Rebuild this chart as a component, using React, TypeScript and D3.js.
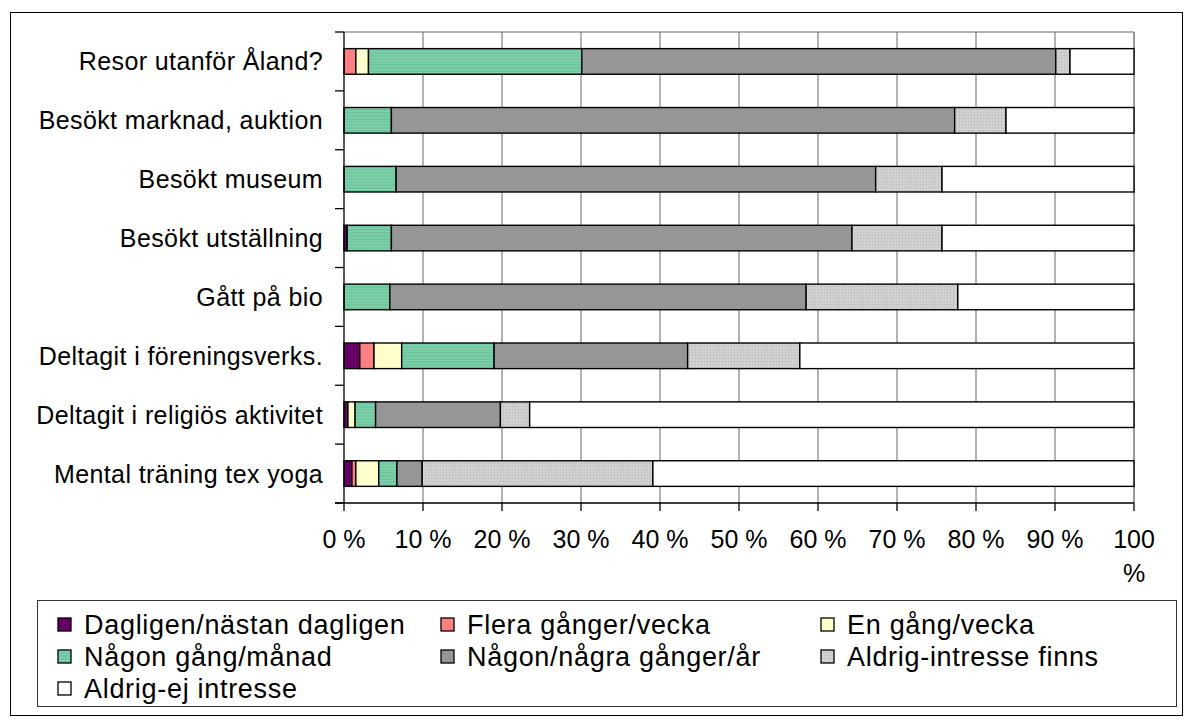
import React from "react";
import * as d3 from "d3";

const categories = [
  "Resor utanför Åland?",
  "Besökt marknad, auktion",
  "Besökt museum",
  "Besökt utställning",
  "Gått på bio",
  "Deltagit i föreningsverks.",
  "Deltagit i religiös aktivitet",
  "Mental träning tex yoga",
];

const seriesNames = [
  "Dagligen/nästan dagligen",
  "Flera gånger/vecka",
  "En gång/vecka",
  "Någon gång/månad",
  "Någon/några gånger/år",
  "Aldrig-intresse finns",
  "Aldrig-ej intresse",
];

const dagligen = [0, 0, 0, 0.4, 0, 2.0, 0.5, 1.0];
const fleraVecka = [1.5, 0, 0, 0, 0, 1.8, 0, 0.5];
const enVecka = [1.6, 0, 0, 0, 0, 3.5, 0.9, 2.9];
const manad = [27.0, 6.0, 6.6, 5.6, 5.8, 11.7, 2.6, 2.3];
const perAr = [60.0, 71.3, 60.7, 58.3, 52.7, 24.5, 15.8, 3.2];
const intresseFinns = [1.8, 6.5, 8.4, 11.4, 19.2, 14.2, 3.7, 29.2];
const ejIntresse = [8.1, 16.2, 24.3, 24.3, 22.3, 42.3, 76.5, 60.9];

const seriesValues = [dagligen, fleraVecka, enVecka, manad, perAr, intresseFinns, ejIntresse];

const tickValues = [0, 10, 20, 30, 40, 50, 60, 70, 80, 90, 100];
const tickLabels = ["0 %", "10 %", "20 %", "30 %", "40 %", "50 %", "60 %", "70 %", "80 %", "90 %", "100 %"];

const fills = [
  "#660066",
  "#FF8080",
  "#FFFFCC",
  "url(#greenStripe)",
  "#969696",
  "url(#grayDots)",
  "#FFFFFF",
];

const FONT = "'Liberation Sans', Arial, sans-serif";

export default function App() {
  const W = 1194;
  const H = 721;
  const plot = { left: 344, right: 1134, top: 32, bottom: 503 };

  const x = d3.scaleLinear().domain([0, 100]).range([plot.left, plot.right]);
  const y = d3
    .scaleBand<string>()
    .domain(categories)
    .range([plot.top, plot.bottom])
    .paddingInner(1.3 / 2.3)
    .paddingOuter(0.65 / 2.3);
  const bandStep = (plot.bottom - plot.top) / categories.length;

  const rows = categories.map((c, i) => {
    const obj: any = { cat: c };
    seriesValues.forEach((s, k) => (obj["s" + k] = s[i]));
    return obj;
  });
  const stack = d3.stack<any>().keys(seriesValues.map((_, k) => "s" + k))(rows);

  const legendCols = [58, 441, 821];
  const legendRows = [625, 657, 689];

  return (
    <svg
      width={W}
      height={H}
      style={{ position: "absolute", left: 0, top: 0, background: "#fff" }}
      fontFamily={FONT}
    >
      <defs>
        <pattern id="greenStripe" width="4" height="3" patternUnits="userSpaceOnUse">
          <rect width="4" height="3" fill="#6FC8A0" />
          <rect y="0" width="4" height="1" fill="#82D0AC" />
        </pattern>
        <pattern id="grayDots" width="3" height="3" patternUnits="userSpaceOnUse">
          <rect width="3" height="3" fill="#CCCCCC" />
          <rect x="0" y="0" width="1" height="1" fill="#DADADA" />
          <rect x="2" y="1" width="1" height="1" fill="#BEBEBE" />
          <rect x="1" y="2" width="1" height="1" fill="#D6D6D6" />
        </pattern>
      </defs>
      <rect x={0} y={0} width={W} height={H} fill="#fff" />
      {/* outer frame */}
      <rect x={10.5} y={12.5} width={1172} height={703} fill="none" stroke="#000" strokeWidth={1} />

      {/* plot border top & right */}
      <line x1={plot.left} x2={plot.right} y1={plot.top} y2={plot.top} stroke="#999" strokeWidth={1.5} />
      <line x1={plot.right} x2={plot.right} y1={plot.top} y2={plot.bottom} stroke="#999" strokeWidth={2} />

      {/* gridlines */}
      {tickValues.slice(1, -1).map((t) => (
        <line key={t} x1={x(t)} x2={x(t)} y1={plot.top} y2={plot.bottom} stroke="#666" strokeWidth={1} />
      ))}

      {/* bars */}
      {stack.map((layer, k) =>
        layer.map((d, i) => {
          const w = x(d[1]) - x(d[0]);
          if (w <= 0) return null;
          return (
            <rect
              key={k + "-" + i}
              x={x(d[0])}
              y={y(categories[i])}
              width={w}
              height={y.bandwidth()}
              fill={fills[k]}
              stroke="#000"
              strokeWidth={1.4}
            />
          );
        })
      )}

      {/* y axis */}
      <line x1={plot.left} x2={plot.left} y1={plot.top} y2={plot.bottom} stroke="#000" strokeWidth={1.3} />
      {d3.range(categories.length + 1).map((i) => (
        <line
          key={i}
          x1={plot.left - 9}
          x2={plot.left}
          y1={plot.top + i * bandStep}
          y2={plot.top + i * bandStep}
          stroke="#000"
          strokeWidth={1.3}
        />
      ))}
      {categories.map((c) => (
        <text
          key={c}
          x={323}
          y={(y(c) as number) + y.bandwidth() / 2}
          textAnchor="end"
          dominantBaseline="central"
          fontSize={25}
          letterSpacing={0.4}
          fill="#000"
        >
          {c}
        </text>
      ))}

      {/* x axis */}
      <line x1={plot.left - 9} x2={plot.right} y1={plot.bottom} y2={plot.bottom} stroke="#000" strokeWidth={1.3} />
      {tickValues.map((t, i) => (
        <g key={t}>
          <line x1={x(t)} x2={x(t)} y1={plot.bottom} y2={plot.bottom + 8} stroke="#000" strokeWidth={1.3} />
          {t < 100 ? (
            <text x={x(t)} y={548} textAnchor="middle" fontSize={25} fill="#000">
              {tickLabels[i]}
            </text>
          ) : (
            <text x={x(t)} y={548} textAnchor="middle" fontSize={25} fill="#000">
              <tspan x={x(t)} y={548}>{tickLabels[i].split(" ")[0]}</tspan>
              <tspan x={x(t)} y={582}>{tickLabels[i].split(" ")[1]}</tspan>
            </text>
          )}
        </g>
      ))}

      {/* legend */}
      <rect x={37.5} y={600.5} width={1139} height={106} fill="#fff" stroke="#333" strokeWidth={1} />
      {seriesNames.map((name, k) => {
        const col = k % 3;
        const row = Math.floor(k / 3);
        const lx = legendCols[col];
        const ly = legendRows[row];
        return (
          <g key={name}>
            <rect x={lx} y={ly - 7} width={13} height={13} fill={fills[k]} stroke="#000" strokeWidth={1.3} />
            <text x={lx + 26} y={ly} dominantBaseline="central" fontSize={27} letterSpacing={0.7} fill="#000">
              {name}
            </text>
          </g>
        );
      })}
    </svg>
  );
}
